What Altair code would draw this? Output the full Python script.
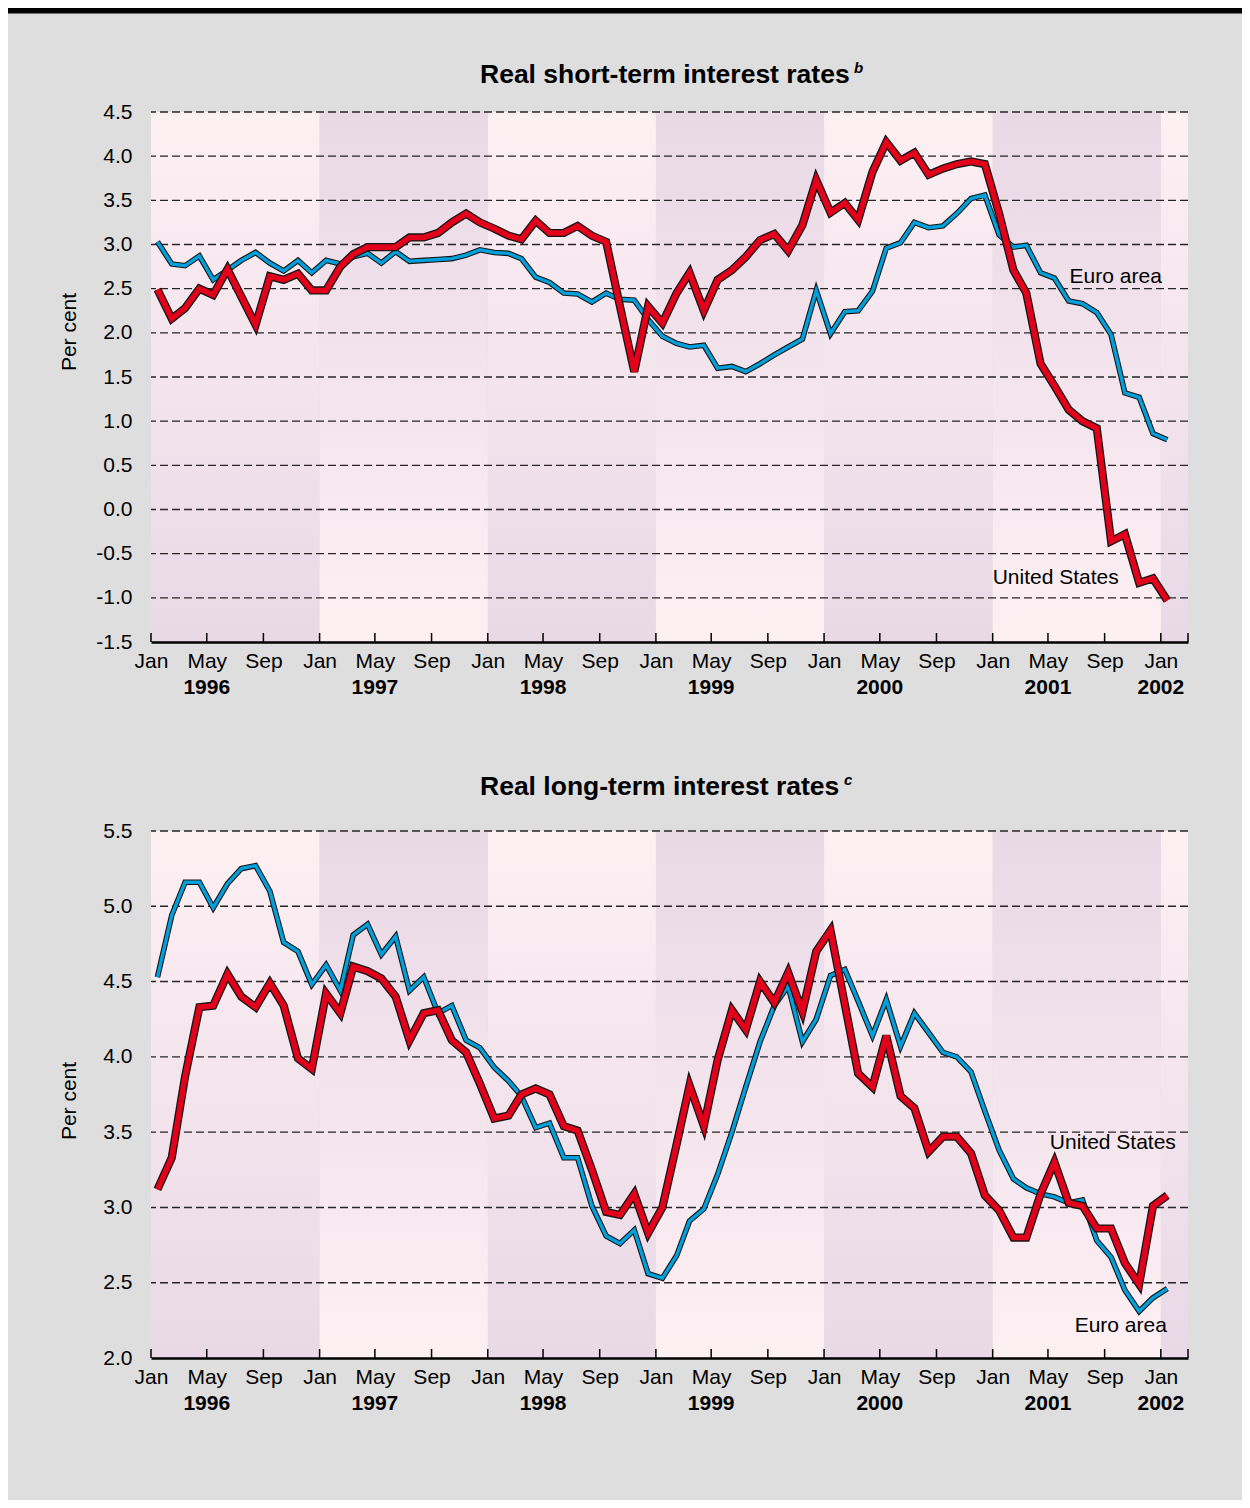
import altair as alt
import pandas as pd

FONT = "Liberation Sans"
BG = "#dedede"
LIGHT = "#fdf0f3"
PURPLE = "#e9d8e6"
RED = "#e2001a"
BLUE = "#00a0dc"
OUTLINE = "#151515"

# monthly observations, Jan 1996 - Jan 2002 (plotted mid-month)
dates = [f"{y}-{m:02d}-15" for y in range(1996, 2002) for m in range(1, 13)] + ["2002-01-15"]

short_euro = [3.03, 2.78, 2.76, 2.87, 2.60, 2.71, 2.82, 2.91, 2.79, 2.70, 2.82, 2.68,
              2.82, 2.78, 2.86, 2.90, 2.79, 2.92, 2.81, 2.82, 2.83, 2.84, 2.88, 2.94,
              2.91, 2.90, 2.84, 2.63, 2.57, 2.45, 2.44, 2.35, 2.45, 2.38, 2.37, 2.15,
              1.96, 1.88, 1.84, 1.86, 1.60, 1.62, 1.56, 1.65, 1.75, 1.84, 1.93, 2.48,
              1.99, 2.24, 2.25, 2.47, 2.96, 3.02, 3.25, 3.19, 3.21, 3.35, 3.52, 3.56,
              3.11, 2.97, 2.99, 2.68, 2.62, 2.36, 2.33, 2.23, 1.98, 1.32, 1.27, 0.86,
              0.79]
short_us = [2.49, 2.16, 2.28, 2.50, 2.43, 2.72, 2.41, 2.09, 2.64, 2.60, 2.67, 2.48,
            2.48, 2.75, 2.89, 2.97, 2.97, 2.97, 3.08, 3.08, 3.13, 3.25, 3.35, 3.25,
            3.18, 3.10, 3.06, 3.27, 3.13, 3.13, 3.21, 3.10, 3.03, 2.30, 1.56, 2.30,
            2.11, 2.45, 2.68, 2.25, 2.60, 2.71, 2.86, 3.05, 3.12, 2.93, 3.22, 3.73,
            3.36, 3.47, 3.28, 3.82, 4.16, 3.95, 4.04, 3.79, 3.86, 3.91, 3.94, 3.91,
            3.35, 2.71, 2.45, 1.65, 1.40, 1.13, 1.00, 0.92, -0.36, -0.28, -0.83, -0.78,
            -1.03]
long_euro = [4.53, 4.94, 5.16, 5.16, 4.99, 5.15, 5.25, 5.27, 5.10, 4.76, 4.70, 4.48,
             4.61, 4.44, 4.81, 4.88, 4.68, 4.80, 4.44, 4.53, 4.29, 4.34, 4.11, 4.06,
             3.93, 3.84, 3.74, 3.53, 3.56, 3.33, 3.33, 3.01, 2.81, 2.76, 2.85, 2.56,
             2.53, 2.68, 2.91, 2.99, 3.22, 3.50, 3.80, 4.10, 4.34, 4.47, 4.10, 4.25,
             4.54, 4.58, 4.37, 4.14, 4.38, 4.07, 4.29, 4.16, 4.03, 4.00, 3.90, 3.64,
             3.38, 3.19, 3.13, 3.09, 3.07, 3.03, 3.05, 2.78, 2.67, 2.45, 2.31, 2.40,
             2.46]
long_us = [3.12, 3.33, 3.87, 4.33, 4.34, 4.55, 4.40, 4.33, 4.49, 4.34, 3.99, 3.92,
           4.42, 4.29, 4.60, 4.57, 4.52, 4.40, 4.11, 4.29, 4.31, 4.11, 4.03, 3.82,
           3.59, 3.61, 3.75, 3.79, 3.75, 3.54, 3.51, 3.25, 2.97, 2.95, 3.09, 2.83,
           3.00, 3.42, 3.81, 3.54, 3.98, 4.31, 4.18, 4.50, 4.36, 4.56, 4.30, 4.70,
           4.84, 4.35, 3.89, 3.80, 4.14, 3.74, 3.66, 3.37, 3.47, 3.47, 3.36, 3.08,
           2.98, 2.80, 2.80, 3.09, 3.30, 3.03, 3.01, 2.86, 2.86, 2.63, 2.49, 3.01,
           3.08]

band_edges = ["1996-01-01", "1997-01-01", "1998-01-01", "1999-01-01", "2000-01-01",
              "2001-01-01", "2002-01-01", "2002-03-01"]
tick_dates = [f"{y}-{m:02d}-01" for y in range(1996, 2002) for m in (1, 5, 9)] + ["2002-01-01"]
axis_end = "2002-03-01"
year_dates = ["1996-05-01", "1997-05-01", "1998-05-01", "1999-05-01", "2000-05-01",
              "2001-05-01", "2002-01-01"]
year_labels = ["1996", "1997", "1998", "1999", "2000", "2001", "2002"]

short_yticks = [-1.5, -1.0, -0.5, 0.0, 0.5, 1.0, 1.5, 2.0, 2.5, 3.0, 3.5, 4.0, 4.5]
long_yticks = [2.0, 2.5, 3.0, 3.5, 4.0, 4.5, 5.0, 5.5]

short_notes = {"d": ["2001-06-17", "2001-01-01"], "v": [2.63, -0.78],
               "t": ["Euro area", "United States"]}
long_notes = {"d": ["2001-05-05", "2001-06-28"], "v": [3.43, 2.21],
              "t": ["United States", "Euro area"]}

W = 1037


def dt(s):
    return alt.DateTime(year=int(s[:4]), month=int(s[5:7]), date=int(s[8:10]), utc=True)


def grad(top, bottom):
    return alt.Gradient(gradient="linear",
                        stops=[alt.GradientStop(color=top, offset=0),
                               alt.GradientStop(color=bottom, offset=1)],
                        x1=0, x2=0, y1=0, y2=1)


def make_panel(title, sup, euro, us, ydomain, yticks, H, title_y, sup_x, sup_y,
               percent_y, notes, top_bar=False, bottom_fill=False):
    xscale = alt.Scale(type="utc", domain=[dt(band_edges[0]), dt(axis_end)])
    xaxis = alt.Axis(values=[dt(s) for s in tick_dates],
                     labelExpr="utcFormat(datum.value, '%b')",
                     ticks=False, tickSize=0, grid=False, domain=True,
                     domainColor="black", domainWidth=2.5,
                     labelFont=FONT, labelFontSize=21, labelColor="black",
                     labelPadding=8, labelFlush=False, labelOverlap=False,
                     zindex=1, title=None)
    yscale = alt.Scale(domain=ydomain, nice=False, zero=False)
    yaxis = alt.Axis(values=yticks,
                     labelExpr="datum.value < 0 ? '-' + format(-datum.value, '.1f') : format(datum.value, '.1f')",
                     ticks=False, tickSize=0, grid=False, domain=False,
                     labelFont=FONT, labelFontSize=21, labelColor="black",
                     labelPadding=19, labelFlush=False, labelOverlap=False,
                     zindex=1, title=None)

    def X(f):
        return alt.X(f, scale=xscale, axis=xaxis, title=None)

    def Y(f):
        return alt.Y(f, scale=yscale, axis=yaxis, title=None)

    lines_df = pd.DataFrame({"date": dates + dates,
                             "series": ["Euro area"] * len(dates) + ["United States"] * len(dates),
                             "value": euro + us})
    bands_df = pd.DataFrame({"start": band_edges[:-1], "end": band_edges[1:],
                             "parity": [i % 2 for i in range(len(band_edges) - 1)]})

    layers = []
    for parity, g in ((0, grad(LIGHT, PURPLE)), (1, grad(PURPLE, LIGHT))):
        layers.append(alt.Chart(bands_df).transform_filter(alt.datum.parity == parity)
                      .mark_rect(fill=g)
                      .encode(x=X("start:T"), x2="end:T", y=alt.value(0), y2=alt.value(H)))

    layers.append(alt.Chart(pd.DataFrame({"v": yticks[1:]}))
                  .mark_rule(stroke="#262626", strokeWidth=1.4, strokeDash=[8, 4])
                  .encode(y=Y("v:Q")))

    def line(series, color, width):
        return (alt.Chart(lines_df).transform_filter(alt.datum.series == series)
                .mark_line(color=color, strokeWidth=width, strokeJoin="miter", strokeMiterLimit=4)
                .encode(x=X("date:T"), y=Y("value:Q")))

    layers += [line("Euro area", OUTLINE, 5.6), line("Euro area", BLUE, 3.4),
               line("United States", OUTLINE, 8.2), line("United States", RED, 5.6)]

    layers.append(alt.Chart(pd.DataFrame({"d": tick_dates + [axis_end]}))
                  .mark_rule(color="black", strokeWidth=1.5)
                  .encode(x=X("d:T"), y=alt.value(H - 9), y2=alt.value(H)))

    layers.append(alt.Chart(pd.DataFrame(notes))
                  .mark_text(font=FONT, fontSize=21, align="left", baseline="middle", color="black")
                  .encode(x=X("d:T"), y=Y("v:Q"), text="t:N"))

    layers.append(alt.Chart(pd.DataFrame({"d": year_dates, "t": year_labels}))
                  .mark_text(font=FONT, fontSize=21, fontWeight="bold", align="center",
                             baseline="middle", color="black")
                  .encode(x=X("d:T"), y=alt.value(H + 46), text="t:N"))

    layers.append(alt.Chart(pd.DataFrame({"t": [title]}))
                  .mark_text(font=FONT, fontSize=26.5, fontWeight="bold", align="left",
                             baseline="middle", color="black")
                  .encode(x=alt.value(329), y=alt.value(title_y), text="t:N"))
    layers.append(alt.Chart(pd.DataFrame({"t": [sup]}))
                  .mark_text(font=FONT, fontSize=15, fontWeight="bold", fontStyle="italic",
                             align="left", baseline="middle", color="black")
                  .encode(x=alt.value(sup_x), y=alt.value(sup_y), text="t:N"))
    layers.append(alt.Chart(pd.DataFrame({"t": ["Per cent"]}))
                  .mark_text(font=FONT, fontSize=21, angle=270, align="center",
                             baseline="middle", color="black")
                  .encode(x=alt.value(-81), y=alt.value(percent_y), text="t:N"))

    if top_bar:
        layers.append(alt.Chart(pd.DataFrame({"k": [0]})).mark_rect(fill="black")
                      .encode(x=alt.value(-143), x2=alt.value(1091),
                              y=alt.value(-104), y2=alt.value(-98.5)))
    if bottom_fill:
        layers.append(alt.Chart(pd.DataFrame({"k": [0]})).mark_rect(fill=BG)
                      .encode(x=alt.value(-143), x2=alt.value(1091),
                              y=alt.value(H + 75), y2=alt.value(669)))

    return alt.layer(*layers).properties(width=W, height=H)


top = make_panel("Real short-term interest rates", "b", short_euro, short_us,
                 [-1.5, 4.5], short_yticks, 530, -37, 703, -44, 220, short_notes,
                 top_bar=True)
bottom = make_panel("Real long-term interest rates", "c", long_euro, long_us,
                    [2.0, 5.5], long_yticks, 527, -44, 693, -51, 270, long_notes,
                    bottom_fill=True)

chart = (alt.vconcat(top, bottom, spacing=189, bounds="flush")
         .properties(padding=0, background=BG)
         .configure_view(stroke=None))

chart.save("out.html", embed_options={"renderer": "svg", "actions": False})
